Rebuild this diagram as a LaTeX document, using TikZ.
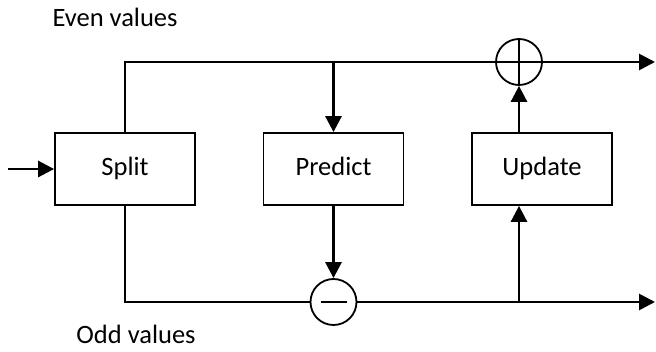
\documentclass[tikz,border=0pt]{standalone}
\usepackage{fontspec}
\setmainfont{Carlito}
\usetikzlibrary{arrows.meta}
\begin{document}
\begin{tikzpicture}[x=1pt,y=-1pt,
  blk/.style={draw,line width=1.8pt,minimum width=140pt,minimum height=72pt,inner sep=0pt,text height=17pt,text depth=3pt,font=\fontsize{26.5}{30}\selectfont},
  op/.style={draw,circle,line width=1.8pt,minimum size=46pt,inner sep=0pt},
  thin/.style={line width=1.8pt},
  thick/.style={line width=2.8pt},
  arr/.style={thick,-{Triangle[length=16pt,width=16pt]}},
  lbl/.style={inner sep=0pt,anchor=base,font=\fontsize{26.5}{30}\selectfont}]
\useasboundingbox (0,0) rectangle (656,352);
\node[blk] (split) at (125,169) {Split};
\node[blk] (predict) at (333.5,169) {Predict};
\node[blk] (update) at (542,169) {Update};
\node[op] (plus) at (519,62) {};
\node[op] (minus) at (333.5,302) {};
\draw[thin] (plus.west) -- (plus.east) (plus.north) -- (plus.south);
\draw[thin] ([xshift=-13pt]minus.center) -- ([xshift=13pt]minus.center);
\coordinate (in) at (8,169);
\coordinate (tl) at (125,62);
\coordinate (bl) at (125,302);
\coordinate (tp) at (333.5,62);
\coordinate (br) at (519,302);
\coordinate (outE) at (655,62);
\coordinate (outO) at (655,302);
\node[lbl] (even) at (115,27) {Even values};
\node[lbl] (odd) at (136,344) {Odd values};
\draw[arr] (in) -- (split.west);
\draw[thin] (split.north) -- (tl) -- (plus.west);
\draw[thin] (split.south) -- (bl) -- (minus.west);
\draw[arr] (tp) -- (predict.north);
\draw[arr] (predict.south) -- (minus.north);
\draw[arr] (update.north -| plus) -- (plus.south);
\draw[arr] (plus.east) -- (outE);
\draw[arr] (minus.east) -- (outO);
\draw[arr] (br) -- (update.south -| br);
\end{tikzpicture}
\end{document}
